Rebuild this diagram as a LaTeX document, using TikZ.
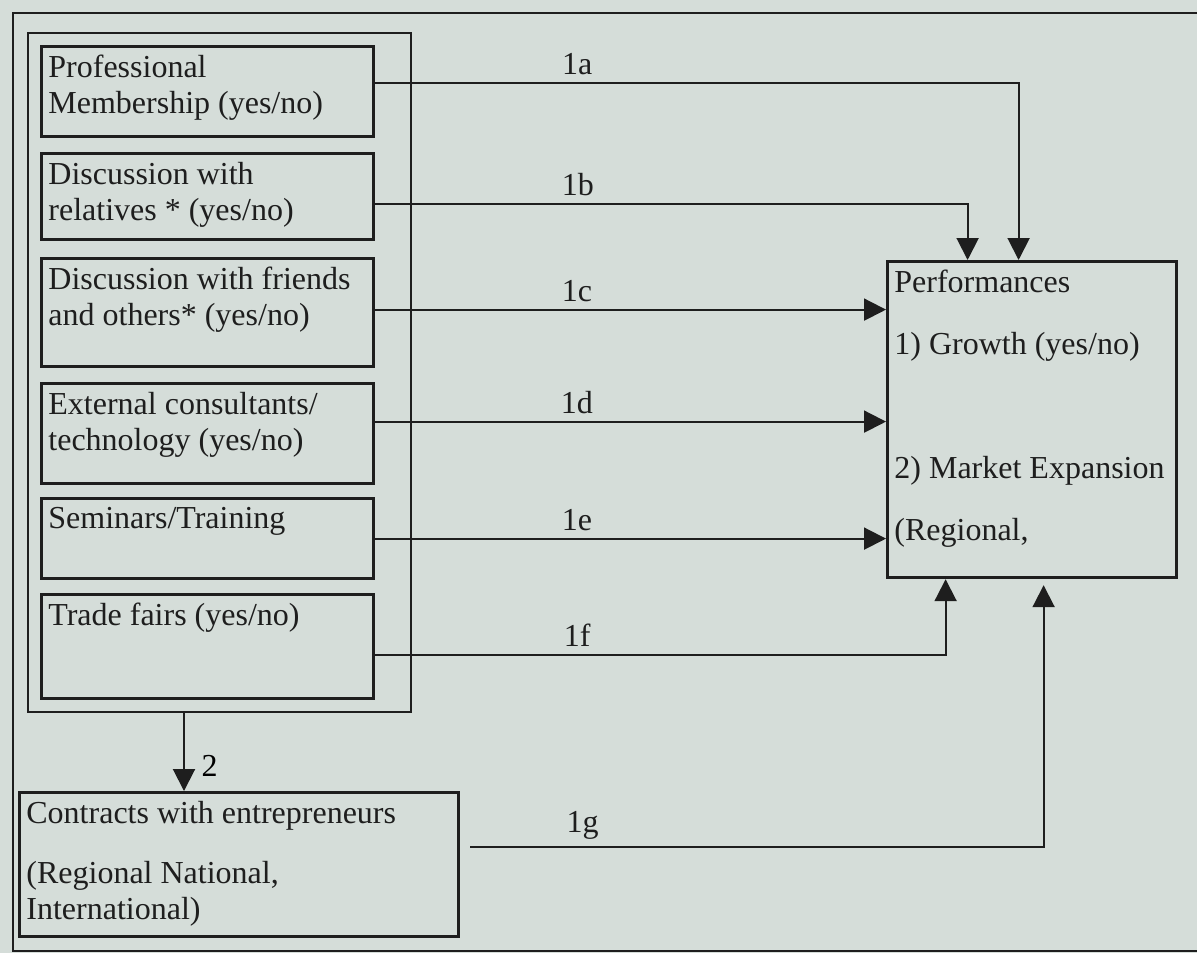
\documentclass[tikz,border=0pt]{standalone}
\usepackage{fontspec}
\setmainfont{Liberation Serif}
\usetikzlibrary{arrows.meta,positioning}
\definecolor{paper}{RGB}{213,221,217}
\definecolor{ink}{RGB}{30,30,30}

\begin{document}
\begin{tikzpicture}[x=0.5pt, y=-0.5pt, font=\fontsize{16}{18}\selectfont,
    factor/.style={draw=ink, line width=1.6pt, anchor=north west, minimum width=166pt},
    frame/.style={draw=ink, line width=1.2pt, anchor=north west},
    boxtext/.style={anchor=north west, align=left, inner xsep=4pt, inner ysep=5pt, text=ink},
    link/.style={draw=ink, line width=1pt, -{Triangle[length=11pt, width=11pt]}},
    tag/.style={above, text=ink}]
        \useasboundingbox (0,0) rectangle (1197,953);
        \fill[paper] (0,0) rectangle (1197,953);

        % Frames
        \draw[ink, line width=1.2pt] (13,13) rectangle (1215,951);
        \node[frame, minimum width=191.5pt, minimum height=339.5pt] (grp) at (27,32) {};

        % Network factors
        \node[factor, minimum height=45pt] (f1) at (40,45) {};
        \node[boxtext] at (f1.north west) {Professional\\Membership (yes/no)};
        \node[factor, minimum height=43pt] (f2) at (40,152) {};
        \node[boxtext] at (f2.north west) {Discussion with\\relatives * (yes/no)};
        \node[factor, minimum height=54pt] (f3) at (40,257) {};
        \node[boxtext] at (f3.north west) {Discussion with friends\\and others* (yes/no)};
        \node[factor, minimum height=50pt] (f4) at (40,382) {};
        \node[boxtext] at (f4.north west) {External consultants/\\technology (yes/no)};
        \node[factor, minimum height=40pt] (f5) at (40,497) {};
        \node[boxtext] at (f5.north west) {Seminars/Training};
        \node[factor, minimum height=52pt] (f6) at (40,593) {};
        \node[boxtext] at (f6.north west) {Trade fairs (yes/no)};

        % Contracts
        \node[factor, minimum width=219.5pt, minimum height=72pt] (deal) at (18,791) {};
        \node[boxtext] at (deal.north west) {Contracts with entrepreneurs\\[12pt](Regional National,\\International)};

        % Performances
        \node[factor, minimum width=144.5pt, minimum height=158pt] (perf) at (886,260) {};
        \node[boxtext] at (perf.north west) {Performances\\[13pt]1) Growth (yes/no)\\[44pt]2) Market Expansion\\[13pt](Regional,};

        % Connections
        \draw[link] ([yshift=4.5pt]f1.east) -| node[tag, pos=0.157] {1a} ([xshift=-6.75pt]perf.north);
        \draw[link] ([yshift=-3.5pt]f2.east) -| node[tag, pos=0.171] {1b} ([xshift=-32.25pt]perf.north);
        \foreach \i/\dy/\t in {3/1.5/c, 4/6/d, 5/0/e} {
            \coordinate (s\i) at ([yshift=\dy pt]f\i.east);
            \draw[link] (s\i) -- node[tag, pos=0.395] {1\t} (s\i -| perf.west);
        }
        \draw[link] ([yshift=-4pt]f6.east) -| node[tag, pos=0.177] {1f} ([xshift=-43.25pt]perf.south);
        \draw[link, shorten <=5pt, shorten >=3pt] ([yshift=9pt]deal.east) -| node[tag, pos=0.105] {1g} ([xshift=5.75pt]perf.south);

        \coordinate (c2) at (184,0);
        \draw[link] (grp.south -| c2) -- node[right=5pt, pos=0.675] {2} (deal.north -| c2);
    \end{tikzpicture}
\end{document}
